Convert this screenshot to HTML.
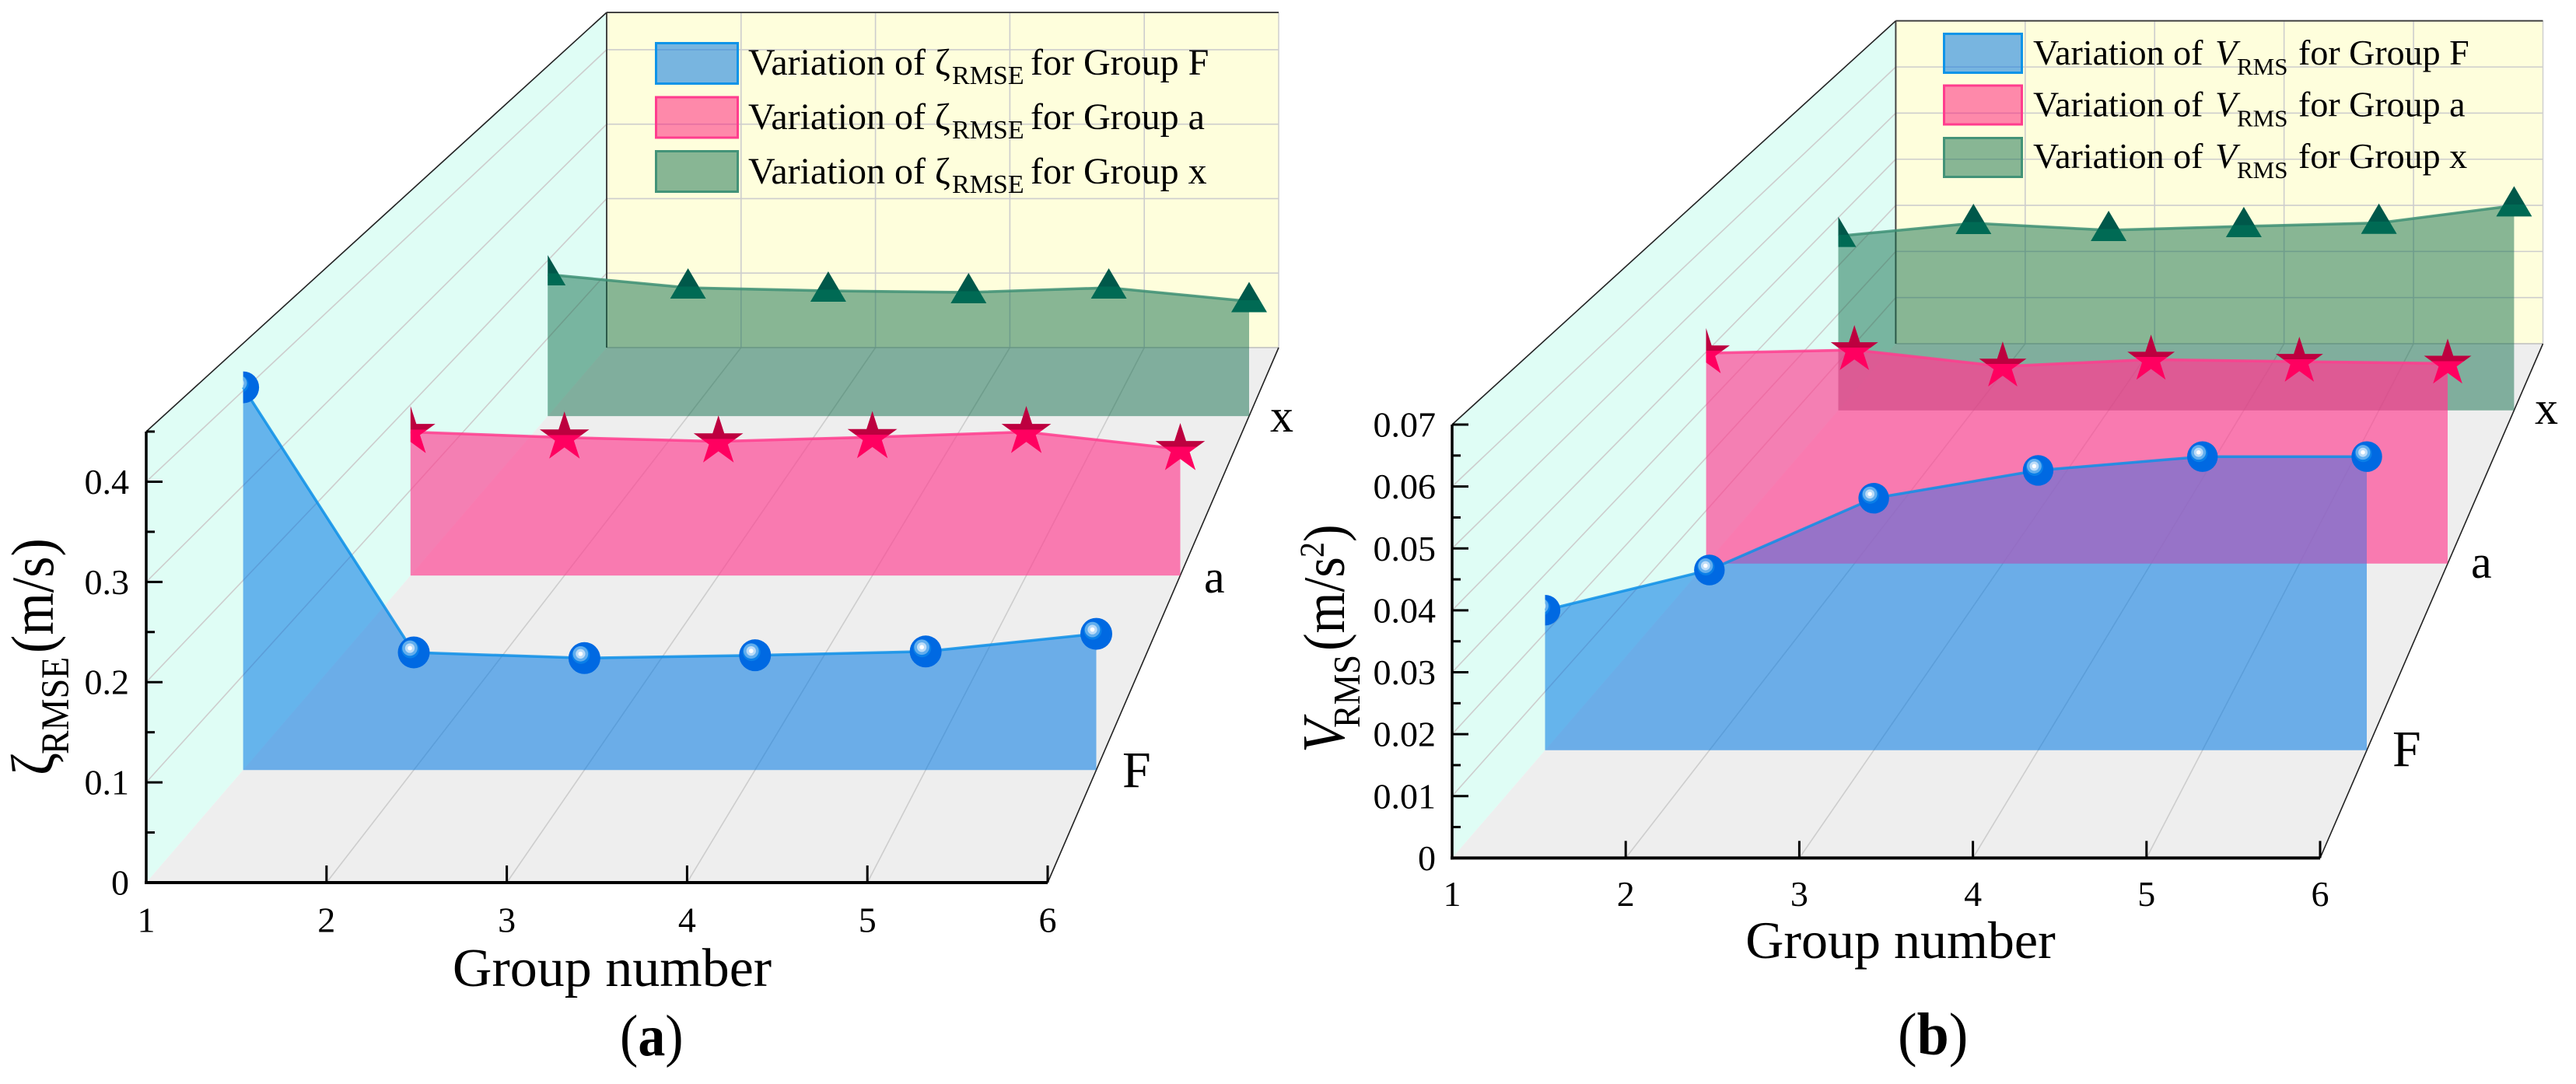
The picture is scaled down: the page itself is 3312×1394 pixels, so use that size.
<!DOCTYPE html>
<html lang="en">
<head>
<meta charset="utf-8">
<title>Variation of RMSE and RMS by group</title>
<style>
html,body{margin:0;padding:0;background:#fff}
svg{display:block}
text{font-family:"Liberation Serif","DejaVu Serif",serif;fill:#000}
</style>
</head>
<body>
<svg id="figure" xmlns="http://www.w3.org/2000/svg" width="3312" height="1394" viewBox="0 0 3312 1394">
<defs>
<linearGradient id="star-shade" x1="0" y1="0" x2="0" y2="1">
<stop offset="0" stop-color="#bd003f"/><stop offset=".5" stop-color="#bd003f"/><stop offset=".5" stop-color="#ff0060"/><stop offset="1" stop-color="#ff0060"/>
</linearGradient>
<linearGradient id="tri-shade" x1="0" y1="0" x2="0" y2="1">
<stop offset="0" stop-color="#00584a"/><stop offset=".6" stop-color="#00584a"/><stop offset=".6" stop-color="#006a54"/><stop offset="1" stop-color="#006a54"/>
</linearGradient>
</defs>

<g id="panel-a"></g>
<g id="panel-b"></g>

<g>
  <rect x="842" y="54" width="108" height="55" fill="#0a79e3" fill-opacity=".55"/>
  <rect x="843.5" y="55.5" width="105" height="52" fill="none" stroke="#0f94e8" stroke-width="3"/>
  <rect x="842" y="123.500" width="108" height="55" fill="#ff0672" fill-opacity=".47"/>
  <rect x="843.5" y="125" width="105" height="52" fill="none" stroke="#ff3d8e" stroke-width="3"/>
  <rect x="842" y="193" width="108" height="55" fill="#126e4c" fill-opacity=".5"/>
  <rect x="843.500" y="194.500" width="105" height="52" fill="none" stroke="#439378" stroke-width="3"/>
  <text y="96" font-size="48"><tspan x="962">Variation of ζ</tspan><tspan x="1224" dy="12" font-size="34">RMSE</tspan><tspan x="1325" dy="-12">for Group F</tspan></text>
  <text y="166" font-size="48"><tspan x="962">Variation of ζ</tspan><tspan x="1224" dy="12" font-size="34">RMSE</tspan><tspan x="1325" dy="-12">for Group a</tspan></text>
  <text y="236" font-size="48"><tspan x="962">Variation of ζ</tspan><tspan x="1224" dy="12" font-size="34">RMSE</tspan><tspan x="1325" dy="-12">for Group x</tspan></text>
</g>

<g>
  <rect x="2498" y="42" width="103" height="53" fill="#0a79e3" fill-opacity=".55"/>
  <rect x="2499.500" y="43.500" width="100" height="50" fill="none" stroke="#0f94e8" stroke-width="3"/>
  <rect x="2498" y="108.500" width="103" height="53" fill="#ff0672" fill-opacity=".47"/>
  <rect x="2499.500" y="110" width="100" height="50" fill="none" stroke="#ff3d8e" stroke-width="3"/>
  <rect x="2498" y="176" width="103" height="53" fill="#126e4c" fill-opacity=".5"/>
  <rect x="2499.500" y="177.500" width="100" height="50" fill="none" stroke="#439378" stroke-width="3"/>
  <text y="83" font-size="46"><tspan x="2614">Variation of </tspan><tspan x="2848" font-style="italic">V</tspan><tspan x="2876" dy="13" font-size="31">RMS</tspan><tspan x="2955" dy="-13">for Group F</tspan></text>
  <text y="149.500" font-size="46"><tspan x="2614">Variation of </tspan><tspan x="2848" font-style="italic">V</tspan><tspan x="2876" dy="13" font-size="31">RMS</tspan><tspan x="2955" dy="-13">for Group a</tspan></text>
  <text y="216" font-size="46"><tspan x="2614">Variation of </tspan><tspan x="2848" font-style="italic">V</tspan><tspan x="2876" dy="13" font-size="31">RMS</tspan><tspan x="2955" dy="-13">for Group x</tspan></text>
</g>

<text x="787" y="1268" font-size="70" text-anchor="middle">Group number</text>
<text x="2443.500" y="1232" font-size="68" text-anchor="middle">Group number</text>

<g transform="translate(68,0) rotate(-90) scale(1,1.1)">
  <text x="-997" y="0" font-size="70">ζ</text>
  <text x="-970" y="18" font-size="46">RMSE</text>
  <text x="-840" y="0" font-size="70">(m/s)</text>
</g>
<g transform="translate(1728,0) rotate(-90) scale(1,1.1)">
  <text x="-968" y="0" font-size="70" font-style="italic">V</text>
  <text x="-936" y="18" font-size="44.500">RMS</text>
  <text x="-837" y="0" font-size="68">(m/s</text>
  <text x="-717" y="-24" font-size="40">2</text>
  <text x="-697" y="0" font-size="68">)</text>
</g>

<text x="1633" y="555" font-size="60">x</text>
<text x="1548" y="762" font-size="60">a</text>
<text x="1443" y="1012" font-size="66">F</text>
<text x="3259" y="545" font-size="60">x</text>
<text x="3177" y="743" font-size="60">a</text>
<text x="3076" y="985" font-size="66">F</text>

<text transform="translate(797,1357) scale(1,1.08)" font-size="70">(<tspan font-weight="bold">a</tspan>)</text>
<text transform="translate(2440,1356) scale(1,1.05)" font-size="74">(<tspan font-weight="bold">b</tspan>)</text>
</svg>

<script>
// ---- chart data ----
const groupNumbers = [1, 2, 3, 4, 5, 6];
const groupTickLabels = ['1', '2', '3', '4', '5', '6'];

const zetaTickValues = [0, 0.1, 0.2, 0.3, 0.4];
const zetaTickLabels = ['0', '0.1', '0.2', '0.3', '0.4'];
const zetaMinorTicks = [0.05, 0.15, 0.25, 0.35, 0.45];
const zetaGroupF = [0.4036, 0.124, 0.118, 0.121, 0.125, 0.1436];
const zetaGroupA = [0.168, 0.1615, 0.157, 0.162, 0.168, 0.148];
const zetaGroupX = [0.182, 0.165, 0.161, 0.159, 0.165, 0.1475];

const vTickValues = [0, 0.01, 0.02, 0.03, 0.04, 0.05, 0.06, 0.07];
const vTickLabels = ['0', '0.01', '0.02', '0.03', '0.04', '0.05', '0.06', '0.07'];
const vMinorTicks = [0.005, 0.015, 0.025, 0.035, 0.045, 0.055, 0.065];
const vGroupF = [0.0239, 0.03076, 0.043, 0.04775, 0.0501, 0.0501];
const vGroupA = [0.0398, 0.0404, 0.0373, 0.0386, 0.0382, 0.03785];
const vGroupX = [0.03617, 0.03885, 0.0374, 0.0382, 0.0389, 0.0425];

// ---- helpers ----
const NS = 'http://www.w3.org/2000/svg';
function mk(parent, tag, attrs, content) {
  const el = document.createElementNS(NS, tag);
  for (const k in attrs) el.setAttribute(k, attrs[k]);
  if (content !== undefined) el.textContent = content;
  parent.appendChild(el);
  return el;
}
function lerp(a, b, t) { return a + (b - a) * t; }
function pts(list) { return list.map(p => p[0].toFixed(1) + ',' + p[1].toFixed(1)).join(' '); }

function drawPanel(root, key, g, yTicks, yLabels, yMinor, series) {
  // axis functions
  const frac = n => (n - groupNumbers[0]) / (groupNumbers[groupNumbers.length - 1] - groupNumbers[0]);
  const fx = n => lerp(g.fl, g.fr, frac(n));
  const bx = n => lerp(g.bl, g.br, frac(n));
  const fy = v => g.fb - v / g.yMax * (g.fb - g.ft);
  const by = v => g.bb - v / g.yMax * (g.bb - g.bt);
  const X = (n, t) => lerp(fx(n), bx(n), t);
  const Y = (v, t) => lerp(fy(v), by(v), t);

  // walls
  const leftWall = mk(root, 'polygon', {points: pts([[g.fl, g.fb], [g.fl, g.ft], [g.bl, g.bt], [g.bl, g.bb]]), fill: '#dffdf5'});
  
  
  const backWall = mk(root, 'rect', {x: g.bl, y: g.bt, width: g.br - g.bl, height: g.bb - g.bt, fill: '#fefedc'});
  
  
  const floor = mk(root, 'polygon', {points: pts([[g.fl, g.fb], [g.fr, g.fb], [g.br, g.bb], [g.bl, g.bb]]), fill: '#eeeeee'});
  
  

  // grid
  const gridStyle = {stroke: '#cdcdcd', 'stroke-width': 1.6, fill: 'none'};
  yTicks.forEach(v => {
    if (v === 0) return;
    if (Math.abs(v - g.yMax) < 1e-9) return;
    const wallLine = mk(root, 'line', Object.assign({x1: g.fl, y1: fy(v), x2: g.bl, y2: by(v)}, gridStyle));
    
    
    const backLine = mk(root, 'line', Object.assign({x1: g.bl, y1: by(v), x2: g.br, y2: by(v)}, gridStyle));
    
    
  });
  groupNumbers.slice(1, -1).forEach(n => {
    const floorLine = mk(root, 'line', Object.assign({x1: fx(n), y1: g.fb, x2: bx(n), y2: g.bb}, gridStyle));
    
    
    const backLine = mk(root, 'line', Object.assign({x1: bx(n), y1: g.bt, x2: bx(n), y2: g.bb}, gridStyle));
    
    
  });
  const backBottom = mk(root, 'line', {x1: g.bl, y1: g.bb, x2: g.br, y2: g.bb, stroke: '#bdbdbd', 'stroke-width': 1.5});
  
  
  const backRight = mk(root, 'line', {x1: g.br, y1: g.bt, x2: g.br, y2: g.bb, stroke: '#cfcfcf', 'stroke-width': 1.5});
  
  
  const backTop = mk(root, 'line', {x1: g.bl, y1: g.bt, x2: g.br, y2: g.bt, stroke: '#444', 'stroke-width': 2});
  
  
  const backLeft = mk(root, 'line', {x1: g.bl, y1: g.bt, x2: g.bl, y2: g.bb, stroke: '#444', 'stroke-width': 2});
  
  
  const topEdge = mk(root, 'line', {x1: g.fl, y1: g.ft, x2: g.bl, y2: g.bt, stroke: '#222', 'stroke-width': 1.6});
  
  
  const rightEdge = mk(root, 'line', {x1: g.fr, y1: g.fb, x2: g.br, y2: g.bb, stroke: '#222', 'stroke-width': 1.6});
  
  

  // series
  const defs = root.ownerSVGElement.querySelector('defs');
  const polys = series.map(s => {
    const top = groupNumbers.map((n, i) => [X(n, s.t), Y(s.values[i], s.t)]);
    const last = groupNumbers[groupNumbers.length - 1];
    return top.concat([[X(last, s.t), Y(0, s.t)], [X(groupNumbers[0], s.t), Y(0, s.t)]]);
  });
  const drawOrder = [2, 1, 0];
  drawOrder.forEach((idx, pos) => {
    const s = series[idx];
    const area = mk(root, 'polygon', {points: pts(polys[idx]), fill: s.fill, 'fill-opacity': s.alpha});
    
    
    if (pos > 0) {
      const behind = drawOrder[pos - 1];
      const cp = mk(defs, 'clipPath', {id: key + '-overlap-' + s.name});
      mk(cp, 'polygon', {points: pts(polys[behind])});
      const over = mk(root, 'polygon', {points: pts(polys[idx]), fill: s.overlap, 'fill-opacity': s.overlapAlpha, 'clip-path': 'url(#' + key + '-overlap-' + s.name + ')'});
      
      
    }
  });
  drawOrder.forEach(idx => {
    const s = series[idx];
    const top = groupNumbers.map((n, i) => [X(n, s.t), Y(s.values[i], s.t)]);
    const line = mk(root, 'polyline', {points: pts(top), fill: 'none', stroke: s.line, 'stroke-width': 3.5, 'stroke-opacity': .85});
    
    

    const cp = mk(defs, 'clipPath', {id: key + '-markers-' + s.name});
    mk(cp, 'rect', {x: X(groupNumbers[0], s.t), y: 0, width: 3312, height: 1394});
    const markers = mk(root, 'g', {'clip-path': 'url(#' + key + '-markers-' + s.name + ')'});
    
    

    top.forEach(p => {
      const mx = p[0], my = p[1];
      if (s.marker === 'sphere') {
        const m = mk(markers, 'g', {});
        
        
        mk(m, 'circle', {cx: mx, cy: my, r: g.sphere, fill: '#0069e2'});
        mk(m, 'circle', {cx: mx - 4.5, cy: my - 4, r: g.sphere * .56, fill: '#0a7fe8'});
        mk(m, 'circle', {cx: mx - 5, cy: my - 5.5, r: g.sphere * .48, fill: '#62aeee'});
        mk(m, 'circle', {cx: mx - 5, cy: my - 5.5, r: g.sphere * .3, fill: '#bcdcf8'});
        mk(m, 'circle', {cx: mx - 5, cy: my - 5.5, r: g.sphere * .14, fill: '#ffffff'});
      } else if (s.marker === 'star') {
        const R = g.star, r = R * .382, star = [];
        for (let k = 0; k < 10; k++) {
          const a = -Math.PI / 2 + k * Math.PI / 5, q = k % 2 ? r : R;
          star.push([mx + q * Math.cos(a), my + q * Math.sin(a)]);
        }
        const m = mk(markers, 'polygon', {points: pts(star), fill: 'url(#star-shade)'});
        
        
      } else {
        const m = mk(markers, 'polygon', {points: pts([[mx, my - 25], [mx + 23, my + 14], [mx - 23, my + 14]]), fill: 'url(#tri-shade)'});
        
        
      }
    });
  });

  // axes
  const yAxis = mk(root, 'line', {x1: g.fl, y1: g.ft, x2: g.fl, y2: g.fb + 2, stroke: '#000', 'stroke-width': 3.5});
  
  
  const xAxis = mk(root, 'line', {x1: g.fl - 2, y1: g.fb, x2: g.fr, y2: g.fb, stroke: '#000', 'stroke-width': 4});
  
  

  yTicks.forEach((v, i) => {
    const tick = mk(root, 'line', {x1: g.fl, y1: fy(v), x2: g.fl + 21, y2: fy(v), stroke: '#000', 'stroke-width': 3});
    
    
    const label = mk(root, 'text', {x: g.yLabelX, y: fy(v) + 15.5, 'font-size': 46, 'text-anchor': 'end'}, yLabels[i]);
    
    
  });
  yMinor.forEach(v => {
    const tick = mk(root, 'line', {x1: g.fl, y1: fy(v), x2: g.fl + 11, y2: fy(v), stroke: '#000', 'stroke-width': 3});
    
    
  });
  groupNumbers.forEach((n, i) => {
    const tick = mk(root, 'line', {x1: fx(n), y1: g.fb, x2: fx(n), y2: g.fb - 22, stroke: '#000', 'stroke-width': 3});
    
    
    const label = mk(root, 'text', {x: fx(n), y: g.xLabelY, 'font-size': 46, 'text-anchor': 'middle'}, groupTickLabels[i]);
    
    
  });
}

const styleF = {name: 'f', marker: 'sphere', fill: '#0079e3', alpha: .55, line: '#0d8fe8', overlap: '#ff64be', overlapAlpha: .28};
const styleA = {name: 'a', marker: 'star', fill: '#ff3c8f', alpha: .65, line: '#ff3d8e', overlap: '#ff3c92', overlapAlpha: .25};
const styleX = {name: 'x', marker: 'triangle', fill: '#126e4c', alpha: .5, line: '#3d8f74', overlap: '#000', overlapAlpha: 0};

drawPanel(document.getElementById('panel-a'), 'a',
  {fl: 188, fr: 1347, ft: 555, fb: 1135, bl: 780, br: 1644, bt: 16, bb: 447, yMax: 0.45, yLabelX: 166, xLabelY: 1198.5, sphere: 20.5, star: 33.5},
  zetaTickValues, zetaTickLabels, zetaMinorTicks,
  [Object.assign({values: zetaGroupF, t: 0.2105}, styleF),
   Object.assign({values: zetaGroupA, t: 0.574}, styleA),
   Object.assign({values: zetaGroupX, t: 0.872}, styleX)]);

drawPanel(document.getElementById('panel-b'), 'b',
  {fl: 1867, fr: 2983, ft: 546, fb: 1103.4, bl: 2437.4, br: 3269.5, bt: 26.8, bb: 442, yMax: 0.07, yLabelX: 1846, xLabelY: 1165, sphere: 19.7, star: 32},
  vTickValues, vTickLabels, vMinorTicks,
  [Object.assign({values: vGroupF, t: 0.2095}, styleF),
   Object.assign({values: vGroupA, t: 0.5725}, styleA),
   Object.assign({values: vGroupX, t: 0.8705}, styleX)]);
</script>
</body>
</html>
